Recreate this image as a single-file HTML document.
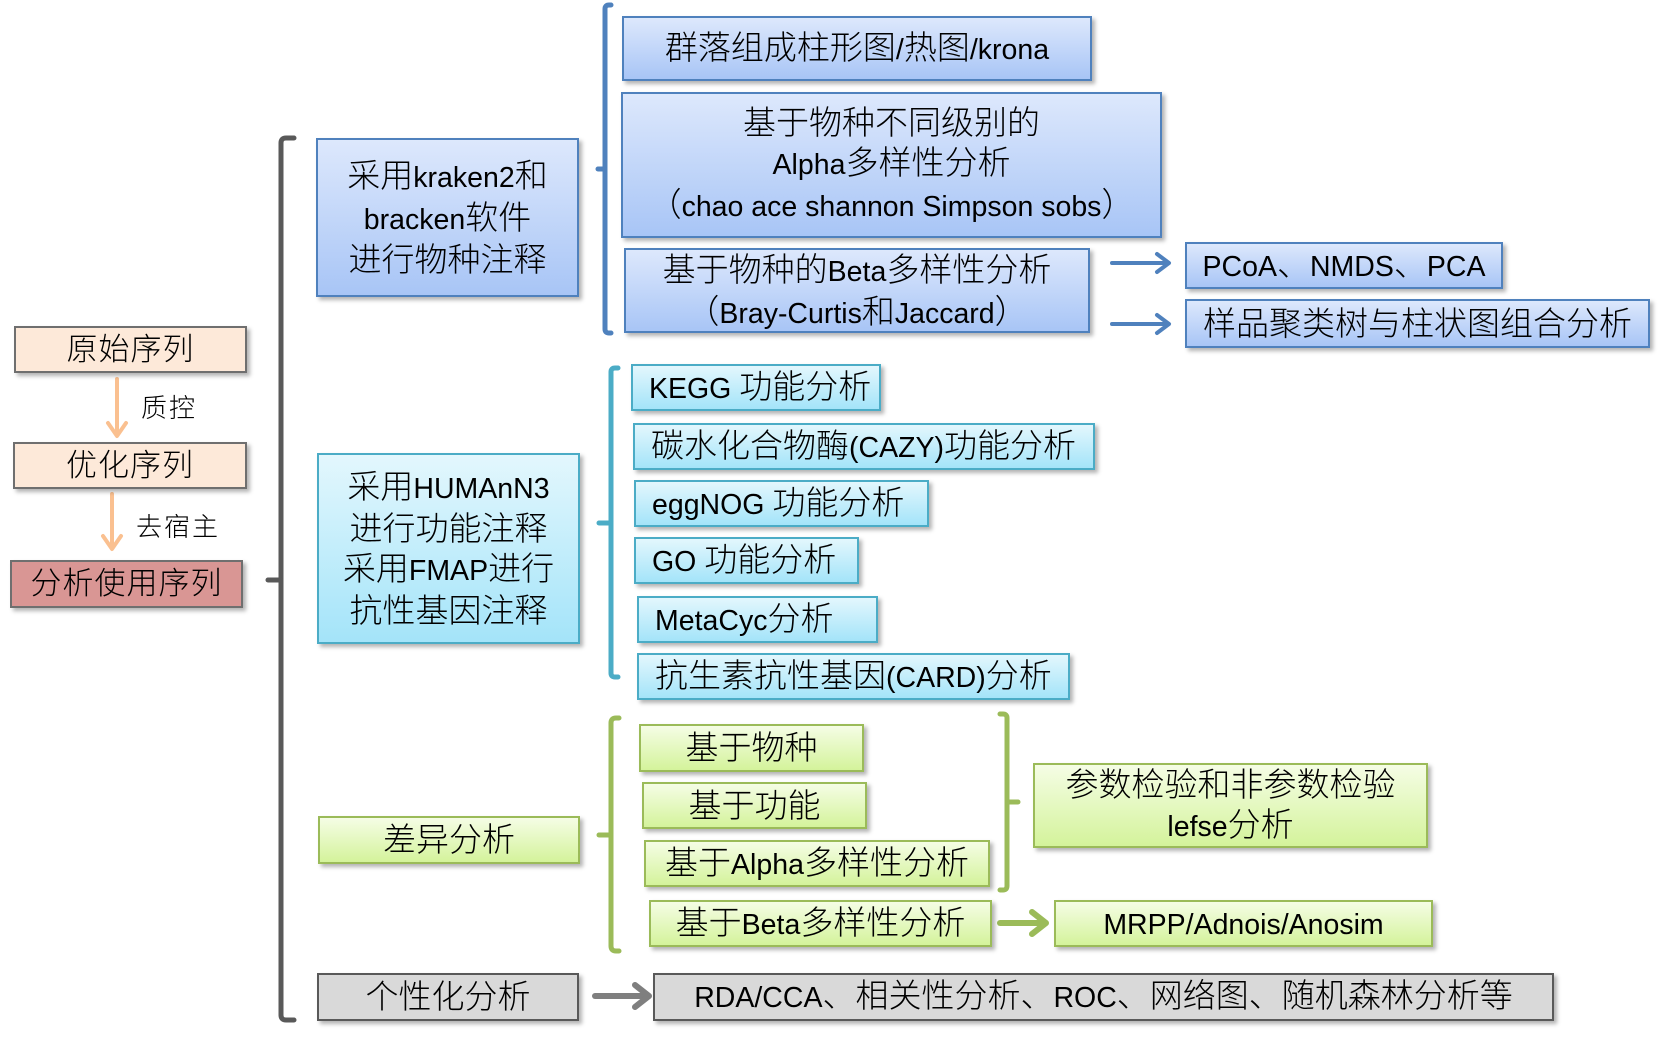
<!DOCTYPE html>
<html><head><meta charset="utf-8">
<style>
html,body{margin:0;padding:0;background:#fff;}
body{width:1658px;height:1048px;position:relative;overflow:hidden;font-family:"Liberation Sans","Noto Sans CJK SC",sans-serif;color:#000;}
.b{position:absolute;box-sizing:border-box;border:2px solid;display:flex;flex-direction:column;justify-content:center;align-items:center;text-align:center;font-size:33px;line-height:40px;box-shadow:3px 3px 4px rgba(0,0,0,0.3);white-space:nowrap;z-index:2;font-weight:300;}
.e{font-size:28.5px;}
.blue{border-color:#4f81bd;background:linear-gradient(#dde8fc,#a8c5f6);}
.cyan{border-color:#4bacc6;background:linear-gradient(#e3f7fd,#a4e4f9);}
.green{border-color:#9bbb59;background:linear-gradient(#f5fde5,#d4f39b);}
.gray{border-color:#595959;background:#d9d9d9;}
.peach{border-color:#6f6f6f;background:#fde9d9;letter-spacing:1px;font-size:31px;}
.red{border-color:#6f6f6f;background:#d99694;letter-spacing:1px;font-size:31px;}
.l{align-items:flex-start;padding-left:16px;}
.lab{position:absolute;font-size:26px;line-height:30px;letter-spacing:2px;z-index:2;font-weight:300;}
svg{position:absolute;left:0;top:0;z-index:1;}
</style></head><body>
<svg width="1658" height="1048" viewBox="0 0 1658 1048" fill="none" stroke-linecap="round" stroke-linejoin="round">
  <path d="M294,138 L286,138 Q281,138 281,143 L281,1015 Q281,1020 286,1020 L294,1020" stroke="#595959" stroke-width="5"/>
  <path d="M281,580 L268,580" stroke="#595959" stroke-width="5"/>
  <path d="M611,5 L609,5 Q605,5 605,9 L605,329 Q605,333 609,333 L611,333" stroke="#4f81bd" stroke-width="5"/>
  <path d="M605,169 L598,169" stroke="#4f81bd" stroke-width="5"/>
  <path d="M618,368 L615,368 Q611,368 611,372 L611,673 Q611,677 615,677 L618,677" stroke="#4bacc6" stroke-width="5"/>
  <path d="M611,523 L599,523" stroke="#4bacc6" stroke-width="5"/>
  <path d="M619,718 L616,718 Q611,718 611,723 L611,946 Q611,951 616,951 L619,951" stroke="#9bbb59" stroke-width="5"/>
  <path d="M611,835 L599,835" stroke="#9bbb59" stroke-width="5"/>
  <path d="M1000,714 L1003,714 Q1007,714 1007,718 L1007,886 Q1007,890 1003,890 L1000,890" stroke="#9bbb59" stroke-width="5"/>
  <path d="M1007,802 L1018,802" stroke="#9bbb59" stroke-width="5"/>
  <path d="M117,379 L117,434" stroke="#fac090" stroke-width="4"/>
  <path d="M108,423 L117,436 L126,423" stroke="#fac090" stroke-width="4"/>
  <path d="M112,494 L112,547" stroke="#fac090" stroke-width="4"/>
  <path d="M103,536 L112,549 L121,536" stroke="#fac090" stroke-width="4"/>
  <path d="M1112,263 L1167,263" stroke="#4f81bd" stroke-width="4"/>
  <path d="M1157,254 L1169,263 L1157,272" stroke="#4f81bd" stroke-width="4"/>
  <path d="M1112,324 L1167,324" stroke="#4f81bd" stroke-width="4"/>
  <path d="M1157,315 L1169,324 L1157,333" stroke="#4f81bd" stroke-width="4"/>
  <path d="M1000,923 L1044,923" stroke="#9bbb59" stroke-width="6"/>
  <path d="M1032,912 L1046,923 L1032,934" stroke="#9bbb59" stroke-width="6"/>
  <path d="M595,996 L647,996" stroke="#7f7f7f" stroke-width="6"/>
  <path d="M635,985 L649,996 L635,1007" stroke="#7f7f7f" stroke-width="6"/>
</svg>

<div class="b peach" style="left:14px;top:326px;width:233px;height:47px;">原始序列</div>
<div class="lab" style="left:141px;top:393px;">质控</div>
<div class="b peach" style="left:13px;top:442px;width:234px;height:47px;">优化序列</div>
<div class="lab" style="left:136px;top:512px;">去宿主</div>
<div class="b red" style="left:10px;top:560px;width:233px;height:48px;">分析使用序列</div>

<div class="b blue" style="left:316px;top:138px;width:263px;height:159px;"><div>采用<span class="e">kraken2</span>和</div><div><span class="e">bracken</span>软件</div><div>进行物种注释</div></div>
<div class="b cyan" style="left:317px;top:453px;width:263px;height:191px;line-height:39.5px;"><div>采用<span class="e">HUMAnN3</span></div><div>进行功能注释</div><div>采用<span class="e">FMAP</span>进行</div><div>抗性基因注释</div></div>
<div class="b green" style="left:318px;top:816px;width:262px;height:48px;">差异分析</div>
<div class="b gray" style="left:317px;top:973px;width:262px;height:48px;">个性化分析</div>

<div class="b blue" style="left:622px;top:16px;width:470px;height:65px;"><div>群落组成柱形图<span class="e">/</span>热图<span class="e">/krona</span></div></div>
<div class="b blue" style="left:621px;top:92px;width:541px;height:146px;"><div>基于物种不同级别的</div><div><span class="e">Alpha</span>多样性分析</div><div>（<span class="e">chao ace shannon Simpson sobs</span>）</div></div>
<div class="b blue" style="left:624px;top:248px;width:466px;height:85px;padding-top:2px;"><div>基于物种的<span class="e">Beta</span>多样性分析</div><div>（<span class="e">Bray-Curtis</span>和<span class="e">Jaccard</span>）</div></div>
<div class="b blue" style="left:1185px;top:242px;width:318px;height:47px;"><div><span class="e">PCoA</span>、<span class="e">NMDS</span>、<span class="e">PCA</span></div></div>
<div class="b blue" style="left:1185px;top:299px;width:465px;height:49px;">样品聚类树与柱状图组合分析</div>

<div class="b cyan l" style="left:631px;top:364px;width:250px;height:47px;"><div><span class="e">KEGG </span>功能分析</div></div>
<div class="b cyan l" style="left:633px;top:423px;width:462px;height:47px;"><div>碳水化合物酶<span class="e">(CAZY)</span>功能分析</div></div>
<div class="b cyan l" style="left:634px;top:480px;width:295px;height:47px;"><div><span class="e">eggNOG </span>功能分析</div></div>
<div class="b cyan l" style="left:634px;top:537px;width:225px;height:47px;"><div><span class="e">GO </span>功能分析</div></div>
<div class="b cyan l" style="left:637px;top:596px;width:241px;height:47px;"><div><span class="e">MetaCyc</span>分析</div></div>
<div class="b cyan l" style="left:637px;top:653px;width:433px;height:47px;"><div>抗生素抗性基因<span class="e">(CARD)</span>分析</div></div>

<div class="b green" style="left:639px;top:724px;width:225px;height:48px;">基于物种</div>
<div class="b green" style="left:642px;top:782px;width:225px;height:47px;">基于功能</div>
<div class="b green" style="left:644px;top:840px;width:346px;height:47px;"><div>基于<span class="e">Alpha</span>多样性分析</div></div>
<div class="b green" style="left:649px;top:900px;width:343px;height:47px;"><div>基于<span class="e">Beta</span>多样性分析</div></div>
<div class="b green" style="left:1033px;top:763px;width:395px;height:85px;"><div>参数检验和非参数检验</div><div><span class="e">lefse</span>分析</div></div>
<div class="b green" style="left:1054px;top:900px;width:379px;height:47px;"><div><span class="e">MRPP/Adnois/Anosim</span></div></div>

<div class="b gray" style="left:653px;top:973px;width:901px;height:48px;"><div><span class="e">RDA/CCA</span>、相关性分析、<span class="e">ROC</span>、网络图、随机森林分析等</div></div>
</body></html>
